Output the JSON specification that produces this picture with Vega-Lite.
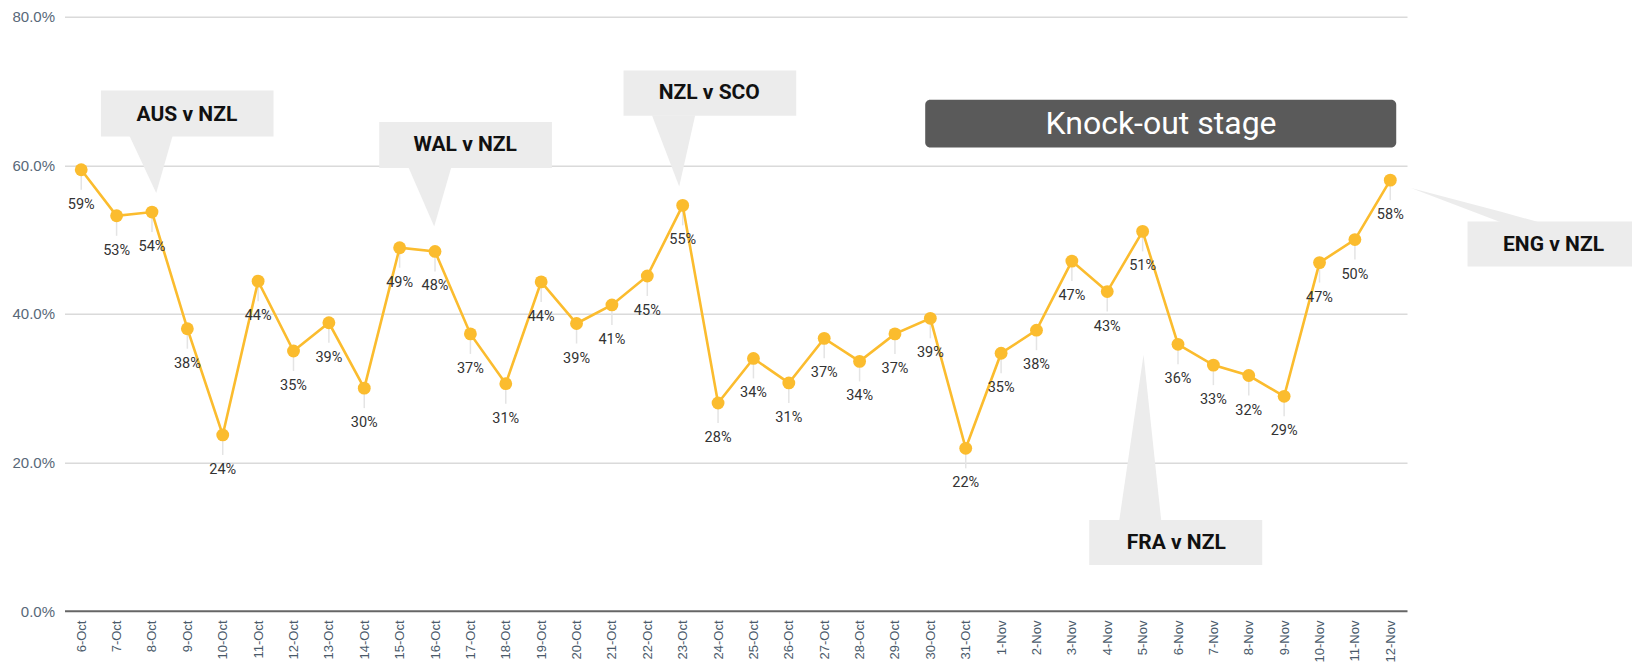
{
  "$schema": "https://vega.github.io/schema/vega-lite/v6.json",
  "width": 1342.5,
  "height": 594.3,
  "autosize": {"type": "none"},
  "padding": {"left": 64.5, "top": 16.7, "right": 225, "bottom": 58},
  "background": "white",
  "config": {"view": {"stroke": null}},
  "datasets": {
    "ratings": [
      {"idx": 0, "date": "6-Oct", "share": 0.594},
      {"idx": 1, "date": "7-Oct", "share": 0.532},
      {"idx": 2, "date": "8-Oct", "share": 0.537},
      {"idx": 3, "date": "9-Oct", "share": 0.380},
      {"idx": 4, "date": "10-Oct", "share": 0.237},
      {"idx": 5, "date": "11-Oct", "share": 0.444},
      {"idx": 6, "date": "12-Oct", "share": 0.350},
      {"idx": 7, "date": "13-Oct", "share": 0.388},
      {"idx": 8, "date": "14-Oct", "share": 0.300},
      {"idx": 9, "date": "15-Oct", "share": 0.489},
      {"idx": 10, "date": "16-Oct", "share": 0.484},
      {"idx": 11, "date": "17-Oct", "share": 0.373},
      {"idx": 12, "date": "18-Oct", "share": 0.306},
      {"idx": 13, "date": "19-Oct", "share": 0.443},
      {"idx": 14, "date": "20-Oct", "share": 0.387},
      {"idx": 15, "date": "21-Oct", "share": 0.412},
      {"idx": 16, "date": "22-Oct", "share": 0.451},
      {"idx": 17, "date": "23-Oct", "share": 0.546},
      {"idx": 18, "date": "24-Oct", "share": 0.280},
      {"idx": 19, "date": "25-Oct", "share": 0.340},
      {"idx": 20, "date": "26-Oct", "share": 0.307},
      {"idx": 21, "date": "27-Oct", "share": 0.367},
      {"idx": 22, "date": "28-Oct", "share": 0.336},
      {"idx": 23, "date": "29-Oct", "share": 0.373},
      {"idx": 24, "date": "30-Oct", "share": 0.394},
      {"idx": 25, "date": "31-Oct", "share": 0.219},
      {"idx": 26, "date": "1-Nov", "share": 0.347},
      {"idx": 27, "date": "2-Nov", "share": 0.378},
      {"idx": 28, "date": "3-Nov", "share": 0.471},
      {"idx": 29, "date": "4-Nov", "share": 0.430},
      {"idx": 30, "date": "5-Nov", "share": 0.511},
      {"idx": 31, "date": "6-Nov", "share": 0.359},
      {"idx": 32, "date": "7-Nov", "share": 0.331},
      {"idx": 33, "date": "8-Nov", "share": 0.317},
      {"idx": 34, "date": "9-Nov", "share": 0.289},
      {"idx": 35, "date": "10-Nov", "share": 0.469},
      {"idx": 36, "date": "11-Nov", "share": 0.500},
      {"idx": 37, "date": "12-Nov", "share": 0.580}
    ],
    "boxes": [
      {"note": "AUS v NZL", "idx": 0.557, "idx2": 5.435, "share": 0.7007, "share2": 0.6388},
      {"note": "WAL v NZL", "idx": 8.423, "idx2": 13.304, "share": 0.6582, "share2": 0.5962},
      {"note": "NZL v SCO", "idx": 15.328, "idx2": 20.209, "share": 0.7277, "share2": 0.6667},
      {"note": "FRA v NZL", "idx": 28.491, "idx2": 33.380, "share": 0.1226, "share2": 0.0620},
      {"note": "ENG v NZL", "idx": 39.183, "idx2": 44.5, "share": 0.5243, "share2": 0.4637}
    ],
    "pointers": [
      {"note": "AUS v NZL", "idx": 1.365, "share": 0.6395, "share2": 0.6395},
      {"note": "AUS v NZL", "idx": 2.120, "share": 0.5626, "share2": 0.6395},
      {"note": "AUS v NZL", "idx": 2.581, "share": 0.6395, "share2": 0.6395},
      {"note": "WAL v NZL", "idx": 9.251, "share": 0.5969, "share2": 0.5969},
      {"note": "WAL v NZL", "idx": 9.977, "share": 0.5176, "share2": 0.5969},
      {"note": "WAL v NZL", "idx": 10.458, "share": 0.5969, "share2": 0.5969},
      {"note": "NZL v SCO", "idx": 16.131, "share": 0.6674, "share2": 0.6674},
      {"note": "NZL v SCO", "idx": 16.902, "share": 0.5714, "share2": 0.6674},
      {"note": "NZL v SCO", "idx": 17.354, "share": 0.6674, "share2": 0.6674},
      {"note": "FRA v NZL", "idx": 29.339, "share": 0.1219, "share2": 0.1219},
      {"note": "FRA v NZL", "idx": 30.026, "share": 0.3448, "share2": 0.1219},
      {"note": "FRA v NZL", "idx": 30.526, "share": 0.1219, "share2": 0.1219},
      {"note": "ENG v NZL", "idx": 37.583, "share": 0.5693, "share2": 0.5693},
      {"note": "ENG v NZL", "idx": 40.107, "share": 0.5378, "share2": 0.5236},
      {"note": "ENG v NZL", "idx": 41.181, "share": 0.5236, "share2": 0.5236}
    ],
    "notes": [
      {"note": "AUS v NZL", "idx": 2.988, "share": 0.6680},
      {"note": "WAL v NZL", "idx": 10.854, "share": 0.6276},
      {"note": "NZL v SCO", "idx": 17.750, "share": 0.6972},
      {"note": "FRA v NZL", "idx": 30.950, "share": 0.0912},
      {"note": "ENG v NZL", "idx": 41.614, "share": 0.4929}
    ],
    "stageBox": [
      {"idx": 23.855, "idx2": 37.168, "share": 0.6882, "share2": 0.6240}
    ],
    "stageLabel": [
      {"label": "Knock-out stage", "idx": 30.52, "share": 0.6559}
    ]
  },
  "encoding": {
    "x": {
      "field": "idx", "type": "quantitative",
      "scale": {"domain": [-0.4725, 37.4725], "nice": false, "zero": false},
      "axis": {
        "title": null,
        "values": [0,1,2,3,4,5,6,7,8,9,10,11,12,13,14,15,16,17,18,19,20,21,22,23,24,25,26,27,28,29,30,31,32,33,34,35,36,37],
        "labelExpr": "timeFormat(datetime(2019, 9, 6 + datum.value), '%-d-%b')",
        "labelAngle": -90,
        "labelFont": "Liberation Sans",
        "labelFontSize": 13,
        "labelColor": "#4a5a6a",
        "labelPadding": 9,
        "labelFlush": false,
        "labelOverlap": false,
        "labelBound": false,
        "ticks": false,
        "domain": false,
        "grid": false
      }
    },
    "y": {
      "field": "share", "type": "quantitative",
      "scale": {"domain": [0, 0.8], "nice": false},
      "axis": {
        "title": null,
        "values": [0, 0.2, 0.4, 0.6, 0.8],
        "format": ".1%",
        "labelFont": "Liberation Sans",
        "labelFontSize": 15,
        "labelColor": "#586878",
        "labelPadding": 10,
        "ticks": false,
        "domain": false,
        "grid": true,
        "gridColor": {"condition": {"test": "datum.value === 0", "value": "#666666"}, "value": "#dadada"},
        "gridWidth": {"condition": {"test": "datum.value === 0", "value": 2}, "value": 1.5}
      }
    }
  },
  "layer": [
    {
      "data": {"name": "boxes"},
      "mark": {"type": "rect", "color": "#ececec"},
      "encoding": {"x2": {"field": "idx2"}, "y2": {"field": "share2"}}
    },
    {
      "data": {"name": "pointers"},
      "mark": {"type": "area", "color": "#ececec", "orient": "vertical"},
      "encoding": {"y2": {"field": "share2"}, "detail": {"field": "note", "type": "nominal"}}
    },
    {
      "data": {"name": "stageBox"},
      "mark": {"type": "rect", "color": "#5a5a5a", "cornerRadius": 5},
      "encoding": {"x2": {"field": "idx2"}, "y2": {"field": "share2"}}
    },
    {
      "data": {"name": "ratings"},
      "mark": {"type": "rule", "color": "#e4e4e4", "strokeWidth": 1.5, "y2Offset": 20},
      "encoding": {"y2": {"field": "share"}}
    },
    {
      "data": {"name": "ratings"},
      "mark": {"type": "line", "color": "#FBBC2E", "strokeWidth": 2.6},
      "encoding": {}
    },
    {
      "data": {"name": "ratings"},
      "mark": {"type": "point", "filled": true, "opacity": 1, "color": "#FBBC2E", "size": 165},
      "encoding": {}
    },
    {
      "data": {"name": "ratings"},
      "mark": {"type": "text", "dy": 35, "font": "Roboto", "fontSize": 14.5, "color": "#333333", "baseline": "middle", "align": "center"},
      "encoding": {"text": {"field": "share", "type": "quantitative", "format": ".0%"}}
    },
    {
      "data": {"name": "notes"},
      "mark": {"type": "text", "font": "Roboto", "fontWeight": "bold", "fontSize": 21, "color": "#111111", "baseline": "middle", "align": "center"},
      "encoding": {"text": {"field": "note", "type": "nominal"}}
    },
    {
      "data": {"name": "stageLabel"},
      "mark": {"type": "text", "font": "Roboto", "fontSize": 32, "color": "#ffffff", "baseline": "middle", "align": "center"},
      "encoding": {"text": {"field": "label", "type": "nominal"}}
    }
  ]
}
